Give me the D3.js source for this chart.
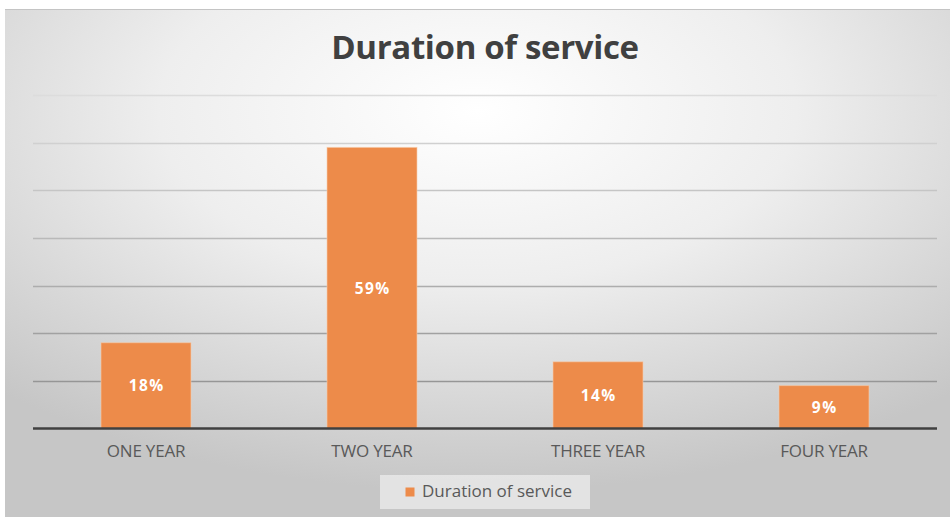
<!DOCTYPE html>
<html><head><meta charset="utf-8">
<script src="https://cdn.jsdelivr.net/npm/d3@7"></script>
<style>body{margin:0;background:#fff}svg{display:block}</style>
</head><body><svg id="c" width="950" height="517"></svg>
<script>
const categories = ["ONE YEAR", "TWO YEAR", "THREE YEAR", "FOUR YEAR"];
const values = [18, 59, 14, 9];
const seriesName = "Duration of service";
const title = "Duration of service";
const yTicks = [0, 10, 20, 30, 40, 50, 60, 70];

const W = 950, H = 517;
const svg = d3.select("#c");
const font = "'Open Sans', 'Noto Sans', sans-serif";

const defs = svg.append("defs");
const rg = defs.append("radialGradient").attr("id", "bg")
  .attr("cx", "50%").attr("cy", "20%").attr("r", "75%")
  .attr("gradientUnits", "objectBoundingBox");
rg.append("stop").attr("offset", "0%").attr("stop-color", "#ffffff");
rg.append("stop").attr("offset", "45%").attr("stop-color", "#eeeeee");
rg.append("stop").attr("offset", "100%").attr("stop-color", "#c6c6c6");

svg.append("rect").attr("x", 5).attr("y", 9).attr("width", W - 5).attr("height", H - 9)
  .attr("fill", "url(#bg)");
svg.append("line").attr("x1", 5).attr("x2", W).attr("y1", 9.5).attr("y2", 9.5)
  .attr("stroke", "#c4c4c4").attr("stroke-width", 1);

const plot = {left: 33, right: 937, top: 95, bottom: 428.5};

const x = d3.scaleBand().domain(categories).range([plot.left, plot.right])
  .paddingInner(0.602).paddingOuter(0.301);
const y = d3.scaleLinear().domain([0, 70]).range([plot.bottom, plot.top]);

const gridCol = d3.scaleLinear().domain([70, 0]).range(["#dcdcdc", "#8a8a8a"]);
svg.append("g").selectAll("line").data(yTicks.filter(d => d > 0)).join("line")
  .attr("x1", plot.left).attr("x2", plot.right)
  .attr("y1", d => Math.round(y(d)) + 0.5).attr("y2", d => Math.round(y(d)) + 0.5)
  .attr("stroke", d => gridCol(d)).attr("stroke-width", 1.3);

// bars
svg.append("g").selectAll("rect").data(values).join("rect")
  .attr("x", (d, i) => x(categories[i]))
  .attr("y", d => y(d))
  .attr("width", x.bandwidth())
  .attr("height", d => y(0) - y(d))
  .attr("fill", "#ed8b4a")
  .attr("stroke", "#f6c9a6").attr("stroke-width", 1).attr("stroke-opacity", 0.6);

// baseline axis
const xAxis = d3.axisBottom(x).tickSize(0).tickPadding(16);
const ax = svg.append("g").attr("transform", `translate(0,${plot.bottom})`).call(xAxis);
ax.select(".domain").attr("stroke", "#404040").attr("stroke-width", 2.5)
  .attr("d", `M${plot.left},0H${plot.right}`);
ax.selectAll("text").attr("font-family", font).attr("font-size", 17)
  .attr("fill", "#595959").attr("letter-spacing", "-0.2px");

// value labels
svg.append("g").selectAll("text").data(values).join("text")
  .attr("x", (d, i) => x(categories[i]) + x.bandwidth() / 2 + 0.75)
  .attr("y", d => (y(d) + y(0)) / 2)
  .attr("dy", "0.36em")
  .attr("text-anchor", "middle")
  .attr("font-family", font).attr("font-weight", 700).attr("font-size", 15.5)
  .attr("fill", "#ffffff").attr("letter-spacing", "1.5px")
  .text(d => d + "%");

// title
svg.append("text").attr("x", 485).attr("y", 59).attr("text-anchor", "middle")
  .attr("font-family", font).attr("font-weight", 700).attr("font-size", 33)
  .attr("fill", "#404040").attr("letter-spacing", "-0.35px").text(title);

// legend
const lg = svg.append("g");
lg.append("rect").attr("x", 380).attr("y", 475).attr("width", 210).attr("height", 34)
  .attr("fill", "#ececec").attr("fill-opacity", 0.75);
lg.append("rect").attr("x", 405.5).attr("y", 487.5).attr("width", 9).attr("height", 9)
  .attr("fill", "#ed8b4a");
lg.append("text").attr("x", 422).attr("y", 497)
  .attr("font-family", font).attr("font-size", 17).attr("fill", "#595959")
  .attr("letter-spacing", "0px").text(seriesName);
</script></body></html>
